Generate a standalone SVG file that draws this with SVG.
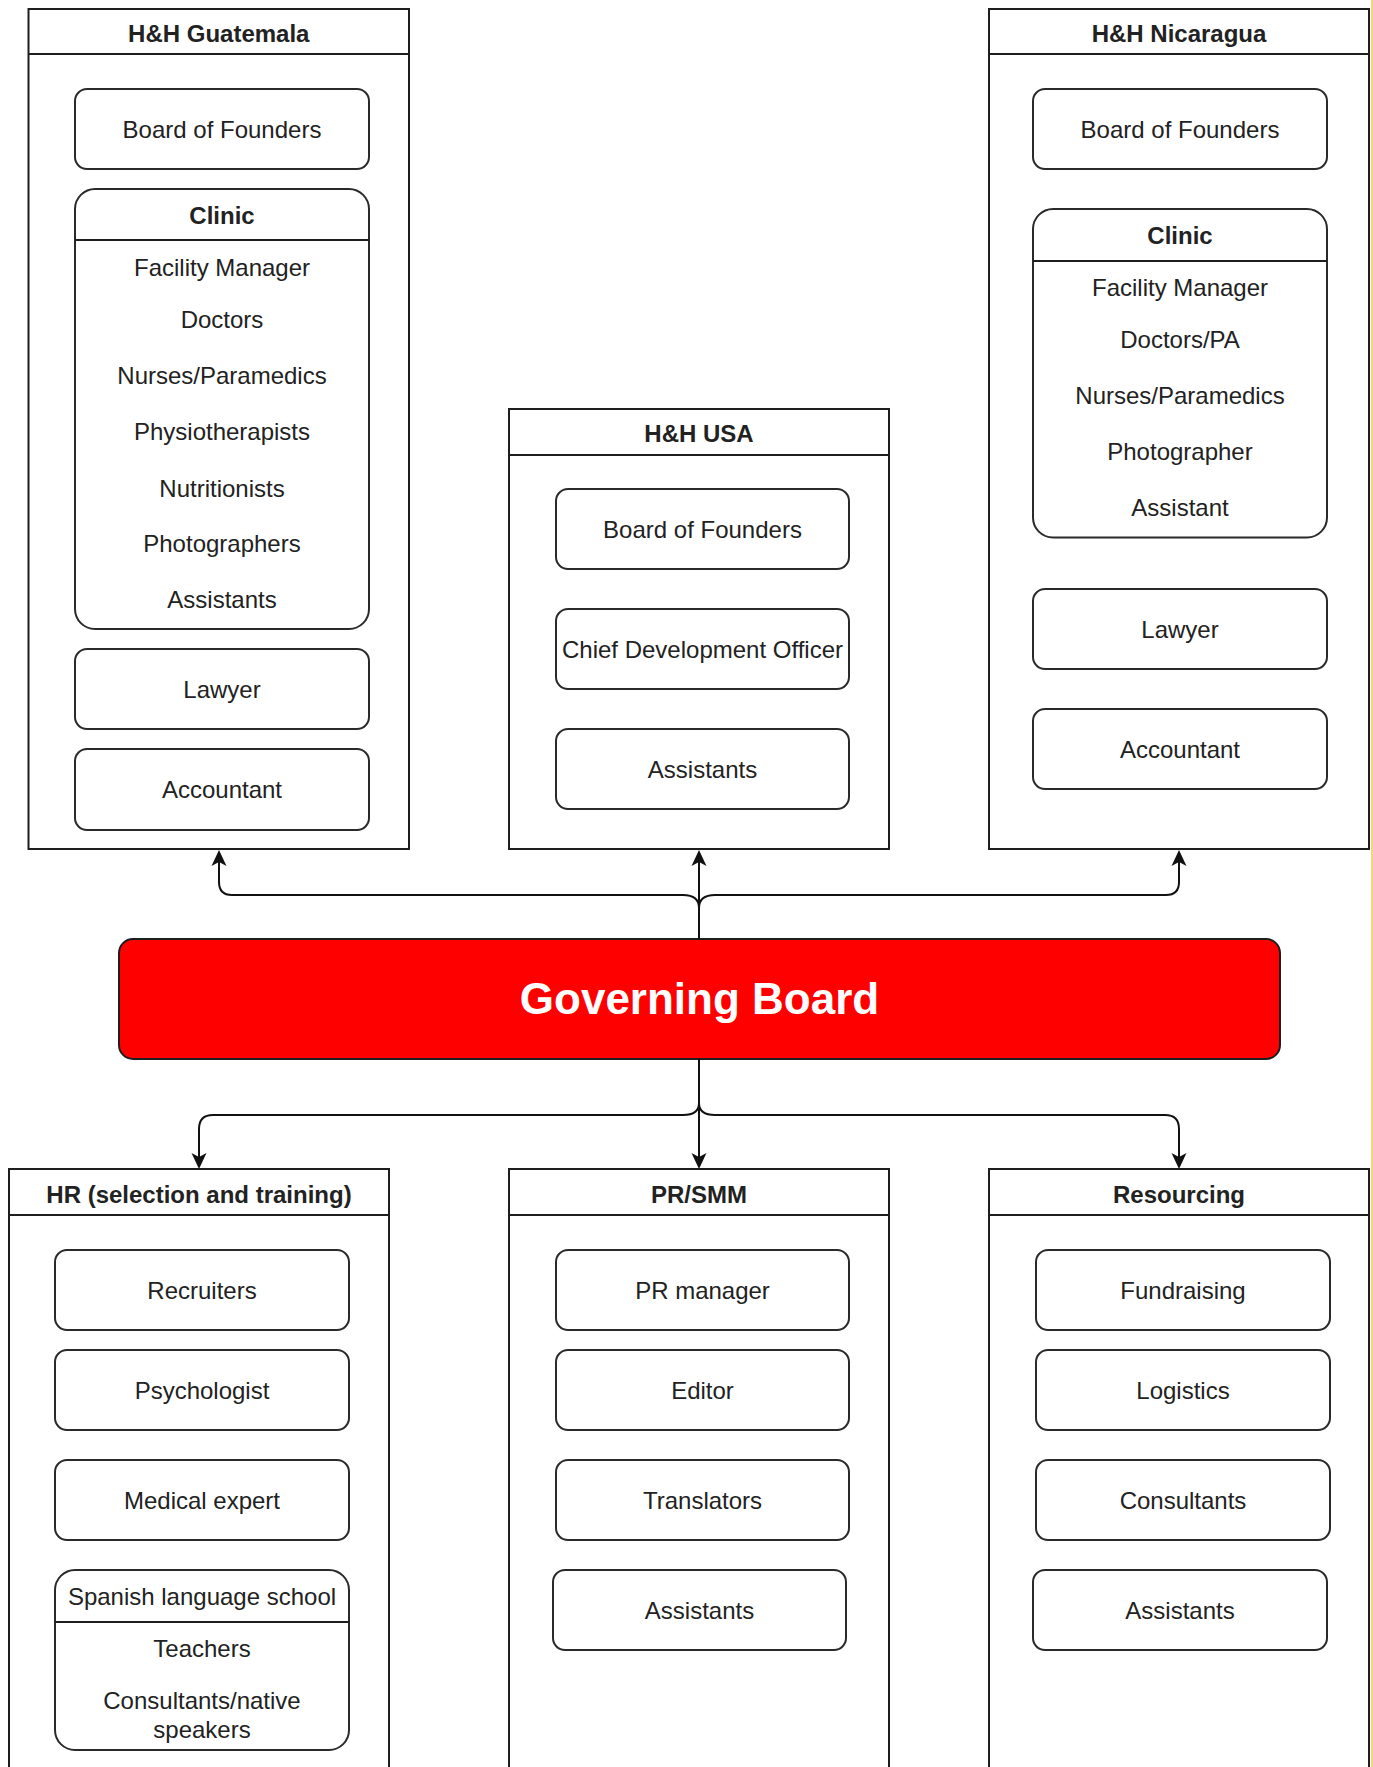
<svg xmlns="http://www.w3.org/2000/svg" width="1373" height="1767" viewBox="0 0 1373 1767">
<defs>
<style>
.cont{fill:#fff;stroke:#1e1e1e;stroke-width:2}
.hdr{stroke:#1e1e1e;stroke-width:2;fill:none}
.box{fill:#fff;stroke:#2a2a2a;stroke-width:2}
.t{font-family:"Liberation Sans",Arial,sans-serif;font-size:24px;fill:#222;text-anchor:middle}
.b{font-weight:bold}
.edge{fill:none;stroke:#111;stroke-width:2}
</style>
<marker id="arr" markerUnits="userSpaceOnUse" viewBox="-5 -9 18 18" markerWidth="18" markerHeight="18" refX="0" refY="0" orient="auto">
<path d="M12,0 L-4,-7.5 L0,0 L-4,7.5 Z" fill="#111"/>
</marker>
</defs>
<rect x="0" y="0" width="1373" height="1767" fill="#fff"/>
<rect x="1371" y="0" width="2" height="1767" fill="#f6d57a"/>

<g id="guatemala">
<rect class="cont" x="28.5" y="9" width="380.5" height="840"/>
<line class="hdr" x1="28.5" y1="54" x2="409" y2="54"/>
<text class="t b" x="218.75" y="41.5">H&amp;H Guatemala</text>
<g id="gt-bof"><rect class="box" x="75" y="89" width="294" height="80" rx="12"/><text class="t" x="222" y="137.5">Board of Founders</text></g>
<g id="gt-clinic">
<rect class="box" x="75" y="189" width="294" height="440" rx="20"/>
<line class="hdr" x1="75" y1="240" x2="369" y2="240"/>
<text class="t b" x="222" y="223.5">Clinic</text>
<text class="t" x="222" y="276">Facility Manager</text>
<text class="t" x="222" y="328">Doctors</text>
<text class="t" x="222" y="384">Nurses/Paramedics</text>
<text class="t" x="222" y="440">Physiotherapists</text>
<text class="t" x="222" y="497">Nutritionists</text>
<text class="t" x="222" y="552">Photographers</text>
<text class="t" x="222" y="608">Assistants</text>
</g>
<g id="gt-lawyer"><rect class="box" x="75" y="649" width="294" height="80" rx="12"/><text class="t" x="222" y="697.5">Lawyer</text></g>
<g id="gt-acc"><rect class="box" x="75" y="749" width="294" height="81" rx="12"/><text class="t" x="222" y="798">Accountant</text></g>
</g>

<g id="usa">
<rect class="cont" x="509" y="409" width="380" height="440"/>
<line class="hdr" x1="509" y1="455" x2="889" y2="455"/>
<text class="t b" x="699" y="441.5">H&amp;H USA</text>
<g id="us-bof"><rect class="box" x="556" y="489" width="293" height="80" rx="12"/><text class="t" x="702.5" y="537.5">Board of Founders</text></g>
<g id="us-cdo"><rect class="box" x="556" y="609" width="293" height="80" rx="12"/><text class="t" x="702.5" y="657.5">Chief Development Officer</text></g>
<g id="us-asst"><rect class="box" x="556" y="729" width="293" height="80" rx="12"/><text class="t" x="702.5" y="777.5">Assistants</text></g>
</g>

<g id="nicaragua">
<rect class="cont" x="989" y="9" width="380" height="840"/>
<line class="hdr" x1="989" y1="54" x2="1369" y2="54"/>
<text class="t b" x="1179" y="41.5">H&amp;H Nicaragua</text>
<g id="ni-bof"><rect class="box" x="1033" y="89" width="294" height="80" rx="12"/><text class="t" x="1180" y="137.5">Board of Founders</text></g>
<g id="ni-clinic">
<rect class="box" x="1033" y="209" width="294" height="328.5" rx="20"/>
<line class="hdr" x1="1033" y1="261" x2="1327" y2="261"/>
<text class="t b" x="1180" y="244">Clinic</text>
<text class="t" x="1180" y="296">Facility Manager</text>
<text class="t" x="1180" y="348">Doctors/PA</text>
<text class="t" x="1180" y="404">Nurses/Paramedics</text>
<text class="t" x="1180" y="460">Photographer</text>
<text class="t" x="1180" y="516">Assistant</text>
</g>
<g id="ni-lawyer"><rect class="box" x="1033" y="589" width="294" height="80" rx="12"/><text class="t" x="1180" y="637.5">Lawyer</text></g>
<g id="ni-acc"><rect class="box" x="1033" y="709" width="294" height="80" rx="12"/><text class="t" x="1180" y="757.5">Accountant</text></g>
</g>

<g id="governing-board">
<rect x="119" y="939" width="1161" height="120" rx="14" fill="#ff0000" stroke="#1e1e1e" stroke-width="2"/>
<text class="t b" x="699.5" y="1014" style="font-size:44px;fill:#fff">Governing Board</text>
</g>

<g id="hr">
<rect class="cont" x="9" y="1169" width="380" height="640"/>
<line class="hdr" x1="9" y1="1215" x2="389" y2="1215"/>
<text class="t b" x="199" y="1202.5">HR (selection and training)</text>
<g id="hr-rec"><rect class="box" x="55" y="1250" width="294" height="80" rx="12"/><text class="t" x="202" y="1298.5">Recruiters</text></g>
<g id="hr-psy"><rect class="box" x="55" y="1350" width="294" height="80" rx="12"/><text class="t" x="202" y="1398.5">Psychologist</text></g>
<g id="hr-med"><rect class="box" x="55" y="1460" width="294" height="80" rx="12"/><text class="t" x="202" y="1508.5">Medical expert</text></g>
<g id="hr-school">
<rect class="box" x="55" y="1570" width="294" height="180" rx="20"/>
<line class="hdr" x1="55" y1="1622" x2="349" y2="1622"/>
<text class="t" x="202" y="1604.5">Spanish language school</text>
<text class="t" x="202" y="1656.5">Teachers</text>
<text class="t" x="202" y="1708.5">Consultants/native</text>
<text class="t" x="202" y="1737.5">speakers</text>
</g>
</g>

<g id="pr">
<rect class="cont" x="509" y="1169" width="380" height="640"/>
<line class="hdr" x1="509" y1="1215" x2="889" y2="1215"/>
<text class="t b" x="699" y="1202.5">PR/SMM</text>
<g id="pr-mgr"><rect class="box" x="556" y="1250" width="293" height="80" rx="12"/><text class="t" x="702.5" y="1298.5">PR manager</text></g>
<g id="pr-ed"><rect class="box" x="556" y="1350" width="293" height="80" rx="12"/><text class="t" x="702.5" y="1398.5">Editor</text></g>
<g id="pr-tr"><rect class="box" x="556" y="1460" width="293" height="80" rx="12"/><text class="t" x="702.5" y="1508.5">Translators</text></g>
<g id="pr-asst"><rect class="box" x="553" y="1570" width="293" height="80" rx="12"/><text class="t" x="699.5" y="1618.5">Assistants</text></g>
</g>

<g id="resourcing">
<rect class="cont" x="989" y="1169" width="380" height="640"/>
<line class="hdr" x1="989" y1="1215" x2="1369" y2="1215"/>
<text class="t b" x="1179" y="1202.5">Resourcing</text>
<g id="rs-fund"><rect class="box" x="1036" y="1250" width="294" height="80" rx="12"/><text class="t" x="1183" y="1298.5">Fundraising</text></g>
<g id="rs-log"><rect class="box" x="1036" y="1350" width="294" height="80" rx="12"/><text class="t" x="1183" y="1398.5">Logistics</text></g>
<g id="rs-con"><rect class="box" x="1036" y="1460" width="294" height="80" rx="12"/><text class="t" x="1183" y="1508.5">Consultants</text></g>
<g id="rs-asst"><rect class="box" x="1033" y="1570" width="294" height="80" rx="12"/><text class="t" x="1180" y="1618.5">Assistants</text></g>
</g>

<g id="connectors">
<path class="edge" marker-end="url(#arr)" d="M699,939 L699,908 Q699,895 683,895 L232,895 Q219,895 219,882 L219,862"/>
<path class="edge" marker-end="url(#arr)" d="M699,939 L699,862"/>
<path class="edge" marker-end="url(#arr)" d="M699,939 L699,908 Q699,895 715,895 L1166,895 Q1179,895 1179,882 L1179,862"/>
<path class="edge" marker-end="url(#arr)" d="M699,1059 L699,1103 Q699,1115 683,1115 L213,1115 Q199,1115 199,1129 L199,1157"/>
<path class="edge" marker-end="url(#arr)" d="M699,1059 L699,1157"/>
<path class="edge" marker-end="url(#arr)" d="M699,1059 L699,1103 Q699,1115 715,1115 L1165,1115 Q1179,1115 1179,1129 L1179,1157"/>
</g>
</svg>
